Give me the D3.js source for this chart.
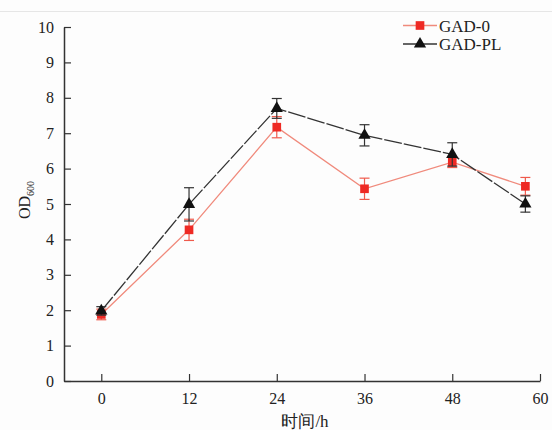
<!DOCTYPE html>
<html>
<head>
<meta charset="utf-8">
<script src="https://cdn.jsdelivr.net/npm/d3@7"></script>
<style>
  body { margin: 0; background: #fdfdfd; }
  svg { display: block; }
  text { font-family: "Liberation Serif", "Times New Roman", serif; fill: #222; }
</style>
</head>
<body>
<div id="chart"></div>
<script>
// Data
const hours = [0, 12, 24, 36, 48, 58];
const gad0 = [1.88, 4.27, 7.17, 5.43, 6.18, 5.50];
const gad0Err = [0.15, 0.30, 0.30, 0.30, 0.15, 0.25];
const gadPL = [1.98, 4.99, 7.70, 6.94, 6.40, 5.00];
const gadPLErr = [0.12, 0.47, 0.28, 0.30, 0.33, 0.23];
const xTicks = [0, 12, 24, 36, 48, 60];
const yTicks = [0, 1, 2, 3, 4, 5, 6, 7, 8, 9, 10];

const width = 552, height = 430;
const margin = { top: 27, right: 12, bottom: 49, left: 64 };

const svg = d3.select('#chart')
    .append('svg')
    .attr('width', width)
    .attr('height', height);

// faint frame line at top
svg.append('line')
    .attr('x1', 0).attr('x2', width)
    .attr('y1', 11.5).attr('y2', 11.5)
    .attr('stroke', '#e6e6e6');

const x = d3.scaleLinear()
    .domain([-5.1, 60])
    .range([margin.left, width - margin.right]);

const y = d3.scaleLinear()
    .domain([0, 10])
    .range([height - margin.bottom, margin.top]);

// Axes (inward ticks)
const xAxis = svg.append('g')
    .attr('transform', `translate(0,${height - margin.bottom})`)
    .call(d3.axisBottom(x).tickValues(xTicks).tickSize(-7).tickSizeOuter(0).tickPadding(12));

const yAxis = svg.append('g')
    .attr('transform', `translate(${margin.left},0)`)
    .call(d3.axisLeft(y).tickValues(yTicks).tickSize(-7).tickSizeOuter(0).tickPadding(10));

[xAxis, yAxis].forEach(g => {
    g.select('.domain').attr('stroke', '#333').attr('stroke-width', 1.5);
    g.selectAll('.tick line').attr('stroke', '#333').attr('stroke-width', 1.2);
    g.selectAll('.tick text')
        .style('font-family', '"Liberation Serif", serif')
        .style('font-size', '16px')
        .attr('fill', '#222');
});

// Axis labels
svg.append('text')
    .attr('x', 305)
    .attr('y', 427)
    .attr('text-anchor', 'middle')
    .style('font-size', '17px')
    .text('时间/h');

const yLabel = svg.append('text')
    .attr('transform', `translate(30,${(y(0) + y(10)) / 2 - 4}) rotate(-90)`)
    .attr('text-anchor', 'middle')
    .style('font-size', '16px');
yLabel.append('tspan').text('OD');
yLabel.append('tspan').attr('dy', 4).style('font-size', '10px').text('600');

// Series definition built from the arrays above
const series = [
    { name: 'GAD-0', values: gad0, errs: gad0Err, color: '#ee2a24', lineColor: '#f08a7c', errColor: '#ef5a4c', dash: null, shape: d3.symbolSquare, size: 75 },
    { name: 'GAD-PL', values: gadPL, errs: gadPLErr, color: '#111', lineColor: '#333', errColor: '#333', dash: '18,2', shape: d3.symbolTriangle, size: 65 }
];

const line = d3.line()
    .x(d => x(d[0]))
    .y(d => y(d[1]));

series.forEach(s => {
    const pts = hours.map((h, i) => [h, s.values[i], s.errs[i]]);

    svg.append('path')
        .datum(pts)
        .attr('fill', 'none')
        .attr('stroke', s.lineColor)
        .attr('stroke-width', 1.3)
        .attr('stroke-dasharray', s.dash)
        .attr('d', line);

    const eb = svg.append('g')
        .attr('stroke', s.errColor)
        .attr('stroke-width', 1.2);

    pts.forEach(d => {
        const cx = x(d[0]);
        const top = y(d[1] + d[2]);
        const bot = y(d[1] - d[2]);
        eb.append('line').attr('x1', cx).attr('x2', cx).attr('y1', top).attr('y2', bot);
        eb.append('line').attr('x1', cx - 5).attr('x2', cx + 5).attr('y1', top).attr('y2', top);
        eb.append('line').attr('x1', cx - 5).attr('x2', cx + 5).attr('y1', bot).attr('y2', bot);
    });

    svg.append('g')
        .selectAll('path')
        .data(pts)
        .enter()
        .append('path')
        .attr('transform', d => `translate(${x(d[0])},${y(d[1])})`)
        .attr('d', d3.symbol().type(s.shape).size(s.size))
        .attr('fill', s.color);
});

// Legend
const legend = svg.append('g');
series.forEach((s, i) => {
    const ly = 25.5 + i * 18.5;
    legend.append('line')
        .attr('x1', 403).attr('x2', 437)
        .attr('y1', ly).attr('y2', ly)
        .attr('stroke', s.lineColor)
        .attr('stroke-width', 1.3);
    legend.append('path')
        .attr('transform', `translate(420,${ly})`)
        .attr('d', d3.symbol().type(s.shape).size(s.size))
        .attr('fill', s.color);
    legend.append('text')
        .attr('x', 439)
        .attr('y', ly + 6)
        .style('font-size', '17px')
        .text(s.name);
});
</script>
</body>
</html>
